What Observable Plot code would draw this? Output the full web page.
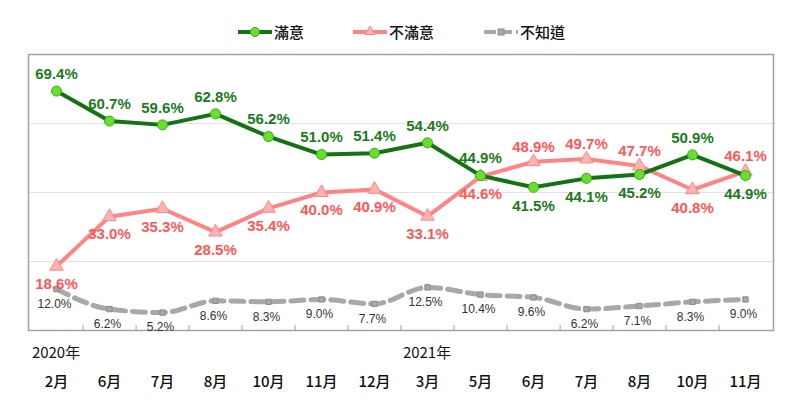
<!DOCTYPE html>
<html>
<head>
<meta charset="utf-8">
<script src="https://cdn.jsdelivr.net/npm/d3@7"></script>
<script src="https://cdn.jsdelivr.net/npm/@observablehq/plot@0.6"></script>
<style>
  html, body { margin: 0; padding: 0; background: #fff; }
  #wrap { width: 800px; height: 420px; position: relative; overflow: hidden; }
  #legend { position: relative; height: 50px; width: 800px; font-family: "Noto Sans CJK TC", "Liberation Sans", sans-serif; font-size: 15px; font-weight: 500; color: #111; }
  .item { position: absolute; top: 22px; display: flex; align-items: center; height: 20px; }
  .item svg { display: block; }
  .item span { margin-left: 2px; line-height: 20px; }
</style>
</head>
<body>
<div id="wrap">
  <div id="legend"></div>
  <div id="chart"></div>
</div>
<script>
const months = ["2月","6月","7月","8月","10月","11月","12月","3月","5月","6月","7月","8月","10月","11月"];
const yearLabels = [{idx: 0, label: "2020年"}, {idx: 7, label: "2021年"}];
const seriesNames = ["滿意", "不滿意", "不知道"];
const satisfied    = [69.4, 60.7, 59.6, 62.8, 56.2, 51.0, 51.4, 54.4, 44.9, 41.5, 44.1, 45.2, 50.9, 44.9];
const dissatisfied = [18.6, 33.0, 35.3, 28.5, 35.4, 40.0, 40.9, 33.1, 44.6, 48.9, 49.7, 47.7, 40.8, 46.1];
const unknown      = [12.0, 6.2, 5.2, 8.6, 8.3, 9.0, 7.7, 12.5, 10.4, 9.6, 6.2, 7.1, 8.3, 9.0];

const GREEN = "#137313", GREEN_DOT = "#66e02a", GREEN_TXT = "#1b7a1b";
const PINK = "#ff8585", PINK_MK = "#ffb3b3", PINK_TXT = "#ff5757";
const GRAY = "#a8a8a8", GRAY_MK = "#8c8c8c", GRAY_TXT = "#333";

// Legend
const legend = document.getElementById("legend");
const legendDefs = [
  {name: seriesNames[0], left: 238, svg: `<line x1="0" y1="10" x2="34" y2="10" stroke="${GREEN}" stroke-width="4"/><circle cx="17" cy="10" r="4.5" fill="${GREEN_DOT}" stroke="#3aa81a" stroke-width="1"/>`},
  {name: seriesNames[1], left: 353, svg: `<line x1="0" y1="10" x2="34" y2="10" stroke="${PINK}" stroke-width="4"/><path d="M17,4 L22,12.5 L12,12.5 Z" fill="${PINK_MK}" stroke="${PINK}" stroke-width="1"/>`},
  {name: seriesNames[2], left: 484, svg: `<line x1="0" y1="10" x2="34" y2="10" stroke="${GRAY}" stroke-width="4" stroke-dasharray="12,4"/><rect x="14" y="7" width="6" height="6" fill="${GRAY}" stroke="${GRAY_MK}" stroke-width="1"/>`}
];
for (const d of legendDefs) {
  const el = document.createElement("div");
  el.className = "item";
  el.style.left = d.left + "px";
  el.innerHTML = `<svg width="34" height="20">${d.svg}</svg><span>${d.name}</span>`;
  legend.appendChild(el);
}

const W = 800, H = 370, mL = 28, mR = 27, mT = 4, mB = 90;
const step = (W - mL - mR) / months.length;
const idx = d3.range(months.length);
const fmt = v => v.toFixed(1) + "%";
const LBL = "Liberation Sans, Arial, sans-serif";
const CJK = "Noto Sans CJK TC, Liberation Sans, sans-serif";

const chart = Plot.plot({
  width: W, height: H,
  marginTop: mT, marginBottom: mB, marginLeft: mL, marginRight: mR,
  style: {fontFamily: LBL, background: "#fff", overflow: "visible"},
  x: {type: "point", domain: idx, padding: 0.5, axis: null},
  y: {domain: [0, 80], axis: null},
  marks: [
    Plot.ruleY([20, 40, 60], {stroke: "#e2e2e2", strokeWidth: 1}),
    Plot.frame({stroke: "#a3a3a3", strokeWidth: 1.5}),
    Plot.ruleX(idx.slice(0, -1), {x: d => d, dx: step / 2, insetTop: H - mT - mB - 5, stroke: "#a3a3a3", strokeWidth: 1}),
    // month labels
    Plot.text(idx, {x: d => d, text: i => months[i], frameAnchor: "bottom", dy: 56, fontSize: 15, fontWeight: 500, fill: "#111", fontFamily: CJK}),
    // year labels
    Plot.text(yearLabels, {x: "idx", text: "label", frameAnchor: "bottom", dy: 27, dx: -step / 2 + 2, textAnchor: "start", fontSize: 15, fontWeight: 400, fill: "#111", fontFamily: CJK}),
    // unknown
    Plot.line(idx, {x: d => d, y: i => unknown[i], stroke: GRAY, strokeWidth: 5, strokeDasharray: "13,7", curve: "monotone-x"}),
    Plot.dot(idx, {x: d => d, y: i => unknown[i], symbol: "square", r: 3, fill: GRAY, stroke: GRAY_MK, strokeWidth: 1}),
    // dissatisfied
    Plot.line(idx, {x: d => d, y: i => dissatisfied[i], stroke: PINK, strokeWidth: 4}),
    Plot.dot(idx, {x: d => d, y: i => dissatisfied[i], symbol: "triangle", r: 5, fill: PINK_MK, stroke: PINK, strokeWidth: 1}),
    // satisfied
    Plot.line(idx, {x: d => d, y: i => satisfied[i], stroke: GREEN, strokeWidth: 4}),
    Plot.dot(idx, {x: d => d, y: i => satisfied[i], r: 5, fill: GREEN_DOT, stroke: "#3aa81a", strokeWidth: 1}),
    // labels
    Plot.text(idx, {filter: i => satisfied[i] >= dissatisfied[i], x: d => d, y: i => satisfied[i], text: i => fmt(satisfied[i]), dy: -17, fill: GREEN_TXT, fontSize: 15, fontWeight: "bold"}),
    Plot.text(idx, {filter: i => satisfied[i] < dissatisfied[i], x: d => d, y: i => satisfied[i], text: i => fmt(satisfied[i]), dy: 19, fill: GREEN_TXT, fontSize: 15, fontWeight: "bold"}),
    Plot.text(idx, {filter: i => dissatisfied[i] > satisfied[i], x: d => d, y: i => dissatisfied[i], text: i => fmt(dissatisfied[i]), dy: -15, fill: PINK_TXT, fontSize: 15, fontWeight: "bold"}),
    Plot.text(idx, {filter: i => dissatisfied[i] <= satisfied[i], x: d => d, y: i => dissatisfied[i], text: i => fmt(dissatisfied[i]), dy: 18, fill: PINK_TXT, fontSize: 15, fontWeight: "bold"}),
    Plot.text(idx, {x: d => d, y: i => unknown[i], text: i => fmt(unknown[i]), dy: 15, dx: -2, fill: GRAY_TXT, fontSize: 12})
  ]
});
document.getElementById("chart").appendChild(chart);
</script>
</body>
</html>
